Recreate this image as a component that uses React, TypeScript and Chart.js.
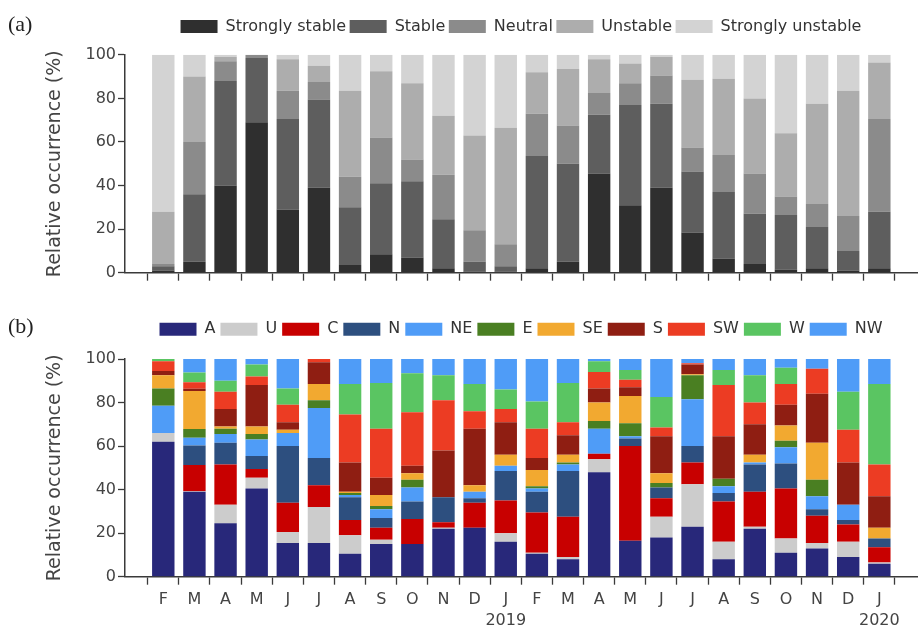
import React, { useEffect, useRef } from 'react';
import { Chart, registerables } from 'chart.js';

Chart.register(...registerables);

// ---------- data ----------
const monthLabels: (string | string[])[] = [
  'F', 'M', 'A', 'M', 'J', 'J', 'A', 'S', 'O', 'N', 'D', ['J', '2019'],
  'F', 'M', 'A', 'M', 'J', 'J', 'A', 'S', 'O', 'N', 'D', ['J', '2020'],
];
const monthIndex = monthLabels.map((_, i) => i);

// Panel (a): stability classes (%)
const stabilityNames = ['Strongly stable', 'Stable', 'Neutral', 'Unstable', 'Strongly unstable'];
const stronglyStable = [1, 5, 40, 69, 29, 39, 3.5, 8.5, 7, 2, 0.5, 0.5, 2, 5, 45.5, 31, 39, 18.5, 6.5, 4, 1.5, 2, 1, 2];
const stable = [2, 31, 48, 29.5, 41.5, 40.5, 26.5, 32.5, 35, 22.5, 4.5, 2.5, 51.5, 45, 27, 46, 38.5, 28, 30.5, 23, 25, 19, 9, 26];
const neutral = [1, 24, 9, 1.5, 13, 8, 14, 21, 10, 20.5, 14.5, 10, 19.5, 17.5, 10, 10, 13, 11, 17, 18.5, 8.5, 10.5, 16, 42.5];
const unstable = [24, 30, 2, 0, 14.5, 7.5, 39.5, 30.5, 35, 27, 43.5, 53.5, 19, 26, 15.5, 9, 8.5, 31, 35, 34.5, 29, 46, 57.5, 26];
const stronglyUnstable = [72, 10, 1, 0, 2, 5, 16.5, 7.5, 13, 28, 37, 33.5, 8, 6.5, 2, 4, 1, 11.5, 11, 20, 36, 22.5, 16.5, 3.5];
const stabilityColors = ['#2f2f2f', '#5e5e5e', '#8b8b8b', '#adadad', '#d3d3d3'];

// Panel (b): wind direction / weather type classes (%)
const windNames = ['A', 'U', 'C', 'N', 'NE', 'E', 'SE', 'S', 'SW', 'W', 'NW'];
const wA = [62, 39, 24.5, 40.5, 15.5, 15.5, 10.5, 15, 15, 22, 22.5, 16, 10.5, 8, 48, 16.5, 18, 23, 8, 22, 11, 13, 9, 6];
const wU = [4, 0.3, 8.5, 5, 5, 16.5, 8.5, 2, 0, 0.5, 0, 4, 0.5, 1, 6, 0, 9.5, 19.5, 8, 1, 6.5, 2.5, 7, 0.5];
const wC = [0, 12, 18.5, 4, 13.5, 10, 7, 5.5, 11.5, 2.5, 11.5, 15, 18.5, 18.5, 2.5, 43.5, 8.5, 10, 18.5, 16, 23, 12.5, 8, 7];
const wN = [0, 9, 10, 6, 26, 12.5, 10.5, 4.5, 8, 11.5, 2, 13.5, 9.5, 21, 0, 3.5, 5, 7.5, 4, 12.5, 11.5, 3, 2, 4];
const wNE = [12.5, 3.5, 4, 7.5, 6, 23, 1, 4, 6.5, 0, 3, 2.5, 1.5, 3, 11.5, 1, 0, 21.5, 3, 1, 7.5, 6, 7, 0];
const wE = [8, 4, 2.5, 2.5, 0, 3.5, 1, 1.5, 3.5, 0, 0, 0, 1, 1, 3.5, 6, 2, 11, 3.5, 0, 3, 7.5, 0, 0];
const wSE = [6, 17.5, 1, 3.5, 1.5, 7.5, 0.5, 5, 3, 0, 3, 5, 7.5, 3.5, 8.5, 12.5, 4.5, 0.5, 0, 3.5, 7, 17, 0, 5];
const wS = [2, 1, 8, 19, 3.5, 10, 13.5, 8, 3.5, 21.5, 26, 15, 5.5, 9, 6.5, 4, 17, 4.5, 19.5, 14, 9.5, 22.5, 19.5, 14.5];
const wSW = [4.5, 3, 8, 4, 8, 1.5, 22, 22.5, 24.5, 23, 8, 6, 13.5, 6, 7.5, 3.5, 4, 0.5, 23.5, 10, 9.5, 11.5, 15, 14.5];
const wW = [1, 4.5, 5, 5.5, 7.5, 0.5, 14, 21, 18, 11.5, 12.5, 9, 12.5, 18, 5, 4.5, 14, 0, 7, 12.5, 7.5, 0, 17.5, 37];
const wNW = [0, 6.2, 10, 2.5, 13.5, 0, 11.5, 11, 6.5, 7.5, 11.5, 14, 19.5, 11, 1, 5, 17.5, 2, 5, 7.5, 4, 4.5, 15, 11.5];
const windColors = ['#28287a', '#cccccc', '#c80000', '#2d4f7f', '#4f9cf7', '#4a7f22', '#f2a930', '#8f1e12', '#ec3c23', '#5ac562', '#4f9cf7'];

const stabilitySeries = [stronglyStable, stable, neutral, unstable, stronglyUnstable];
const windSeries = [wA, wU, wC, wN, wNE, wE, wSE, wS, wSW, wW, wNW];

const yTicks = [0, 20, 40, 60, 80, 100];
const yTitle = 'Relative occurrence (%)';

// ---------- styling ----------
const FONT = 'DejaVu Sans';
const TEXT = '#444444';
const AXIS = '#3a3a3a';
const X_MIN = -0.7;
const X_MAX = 23.68;

const legendShift = {
  id: 'legendShift',
  afterLayout(chart: any, _args: any, opts: any) {
    const lg = chart.legend;
    if (!lg) return;
    const ca = chart.chartArea;
    const h = lg.height;
    lg.left = ca.left;
    lg.right = ca.right;
    lg.width = ca.right - ca.left;
    lg.top = opts.top;
    lg.bottom = opts.top + h;
  },
};

function buildOptions(p: { padTop: number; legendTop: number; xHeight: number; showLabels: boolean; legendPad: number }): any {
  return {
    animation: false,
    responsive: false,
    maintainAspectRatio: false,
    layout: { padding: { top: p.padTop, right: 3, bottom: 0, left: 0 } },
    plugins: {
      legend: {
        display: true,
        position: 'top',
        align: 'center',
        labels: {
          boxWidth: 37,
          boxHeight: 13,
          padding: p.legendPad,
          color: '#333333',
          font: { family: FONT, size: 16 },
        },
      },
      tooltip: { enabled: false },
      legendShift: { top: p.legendTop },
    },
    scales: {
      x: {
        type: 'linear',
        stacked: true,
        min: X_MIN,
        max: X_MAX,
        grid: { drawOnChartArea: false, drawTicks: true, tickLength: 8, tickColor: AXIS, tickWidth: 1.3 },
        border: { display: true, color: AXIS, width: 1.5 },
        ticks: {
          autoSkip: false,
          maxRotation: 0,
          minRotation: 0,
          padding: 4,
          color: TEXT,
          font: { family: FONT, size: 16, lineHeight: 1.35 },
          callback: (v: number) => (p.showLabels ? monthLabels[v] ?? '' : ''),
        },
        afterBuildTicks: (s: any) => {
          s.ticks = monthIndex.map((i) => ({ value: i }));
        },
        afterFit: (s: any) => {
          s.height = p.xHeight;
        },
      },
      y: {
        stacked: true,
        min: 0,
        max: 100,
        ticks: { stepSize: 20, padding: 2, color: TEXT, font: { family: FONT, size: 16 } },
        afterBuildTicks: (s: any) => {
          s.ticks = yTicks.map((v) => ({ value: v }));
        },
        grid: { drawOnChartArea: false, drawTicks: true, tickLength: 7, tickColor: AXIS, tickWidth: 1.3 },
        border: { display: true, color: AXIS, width: 1.5 },
        title: {
          display: true,
          text: yTitle,
          color: TEXT,
          font: { family: FONT, size: 19 },
          padding: { top: 43.6, bottom: 0 },
        },
        afterFit: (s: any) => {
          s.width = 125;
        },
      },
    },
  };
}

function makeDatasets(names: string[], series: number[][], colors: string[]) {
  return names.map((name, k) => ({
    label: name,
    data: series[k],
    backgroundColor: colors[k],
    borderWidth: 0,
    categoryPercentage: 1,
    barPercentage: 0.72,
  }));
}

function StackPanel(props: {
  width: number;
  height: number;
  names: string[];
  series: number[][];
  colors: string[];
  padTop: number;
  legendTop: number;
  xHeight: number;
  showLabels: boolean;
  legendPad: number;
}) {
  const ref = useRef<HTMLCanvasElement | null>(null);
  useEffect(() => {
    if (!ref.current) return;
    const chart = new Chart(ref.current, {
      type: 'bar',
      data: { labels: monthIndex, datasets: makeDatasets(props.names, props.series, props.colors) as any },
      options: buildOptions(props),
      plugins: [legendShift as any],
    });
    return () => chart.destroy();
  }, []);
  return (
    <canvas
      ref={ref}
      width={props.width}
      height={props.height}
      style={{ display: 'block', width: props.width, height: props.height }}
    />
  );
}

const panelLabel: React.CSSProperties = {
  position: 'absolute',
  left: 8,
  fontFamily: '"Liberation Serif", "Times New Roman", serif',
  fontSize: 22,
  lineHeight: '22px',
  color: '#222',
};

export default function App() {
  return (
    <div style={{ position: 'absolute', left: 0, top: 0, width: 920, height: 629, background: '#fff' }}>
      <div style={{ position: 'absolute', left: 0, top: 0 }}>
        <StackPanel
          width={920}
          height={300}
          names={stabilityNames}
          series={stabilitySeries}
          colors={stabilityColors}
          padTop={25.3}
          legendTop={15}
          xHeight={27.3}
          showLabels={false}
          legendPad={3.5}
        />
      </div>
      <div style={{ position: 'absolute', left: 0, top: 300 }}>
        <StackPanel
          width={920}
          height={329}
          names={windNames}
          series={windSeries}
          colors={windColors}
          padTop={28}
          legendTop={16.3}
          xHeight={52.3}
          showLabels={true}
          legendPad={5}
        />
      </div>
      <div style={{ ...panelLabel, top: 13 }}>(a)</div>
      <div style={{ ...panelLabel, top: 315 }}>(b)</div>
    </div>
  );
}
